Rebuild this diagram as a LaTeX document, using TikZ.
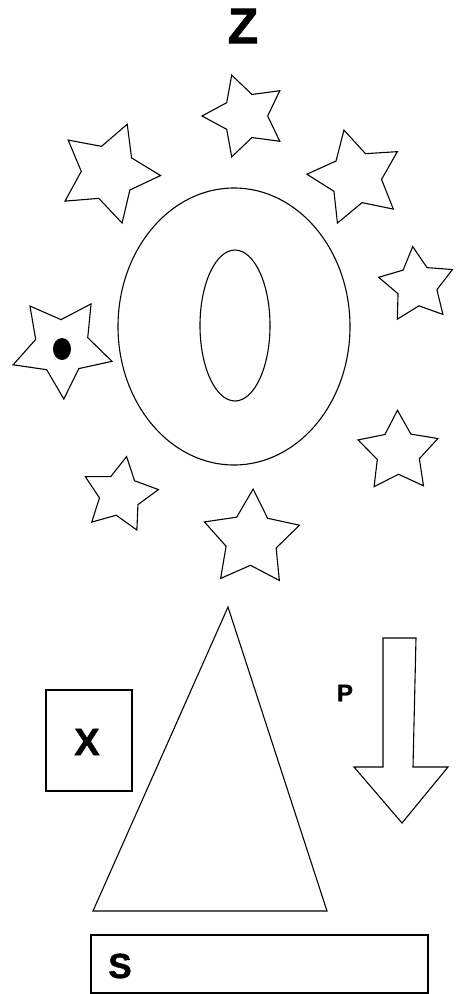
\documentclass[tikz,border=0pt]{standalone}
\usepackage{fontspec}
\setmainfont{Liberation Sans}
\newfontfamily\heavysans[BoldFont={Liberation Sans Bold}, BoldFeatures={FakeBold=1.2}]{Liberation Sans}
\usepackage{tikz}
\usetikzlibrary{shapes.geometric}

\tikzset{
  starnode/.style={star, star points=5, star point ratio=1.9, draw, inner sep=0pt},
  letter/.style={inner sep=0pt}
}

\begin{document}
\begin{tikzpicture}[x=1pt, y=-1pt, line width=1.1pt, line join=miter]
  \useasboundingbox (0,0) rectangle (459,994);

  % Title letter
  \node[letter, font=\heavysans\fontsize{50}{50}\selectfont\bfseries] (zlab) at (243,26) {Z};

  % Stars round the ring: x/y/diameter/turn
  \foreach \x/\y/\d/\a [count=\k] in {245/116/86/18, 108.6/172.8/104/-21,
      355.8/177.6/98/14, 416.8/285.4/78/6, 62/347/104/38,
      119.8/495/78/-10, 251.4/539/100/-2, 398.2/452.2/84/1} {
    \node[starnode, minimum size=\d, rotate=\a] (star\k) at (\x,\y) {};
  }
  % dot in the left star
  \fill (62,349) ellipse [x radius=9, y radius=11];

  % Ring
  \draw (234,326.5) ellipse [x radius=116, y radius=138.5];
  \draw (235,325.5) ellipse [x radius=35, y radius=75.5];

  % Triangle
  \draw (228,607) -- (93,911) -- (327,911) -- cycle;

  % X box
  \draw (46,690) rectangle (132,791);
  \node[letter, font=\heavysans\fontsize{38}{38}\selectfont\bfseries] (xlab) at (87,742) {X};

  % Arrow with label
  \draw (383,638) -- (416,638) -- (413,767) -- (448,767) -- (402,823)
    -- (354,767) -- (383,767) -- cycle;
  \node[letter, font=\heavysans\fontsize{24}{24}\selectfont\bfseries] (plab) at (345,693) {P};

  % S box
  \draw (91,935) rectangle (428,993);
  \node[letter, font=\heavysans\fontsize{35}{35}\selectfont\bfseries] (slab) at (120,966) {S};
\end{tikzpicture}
\end{document}
